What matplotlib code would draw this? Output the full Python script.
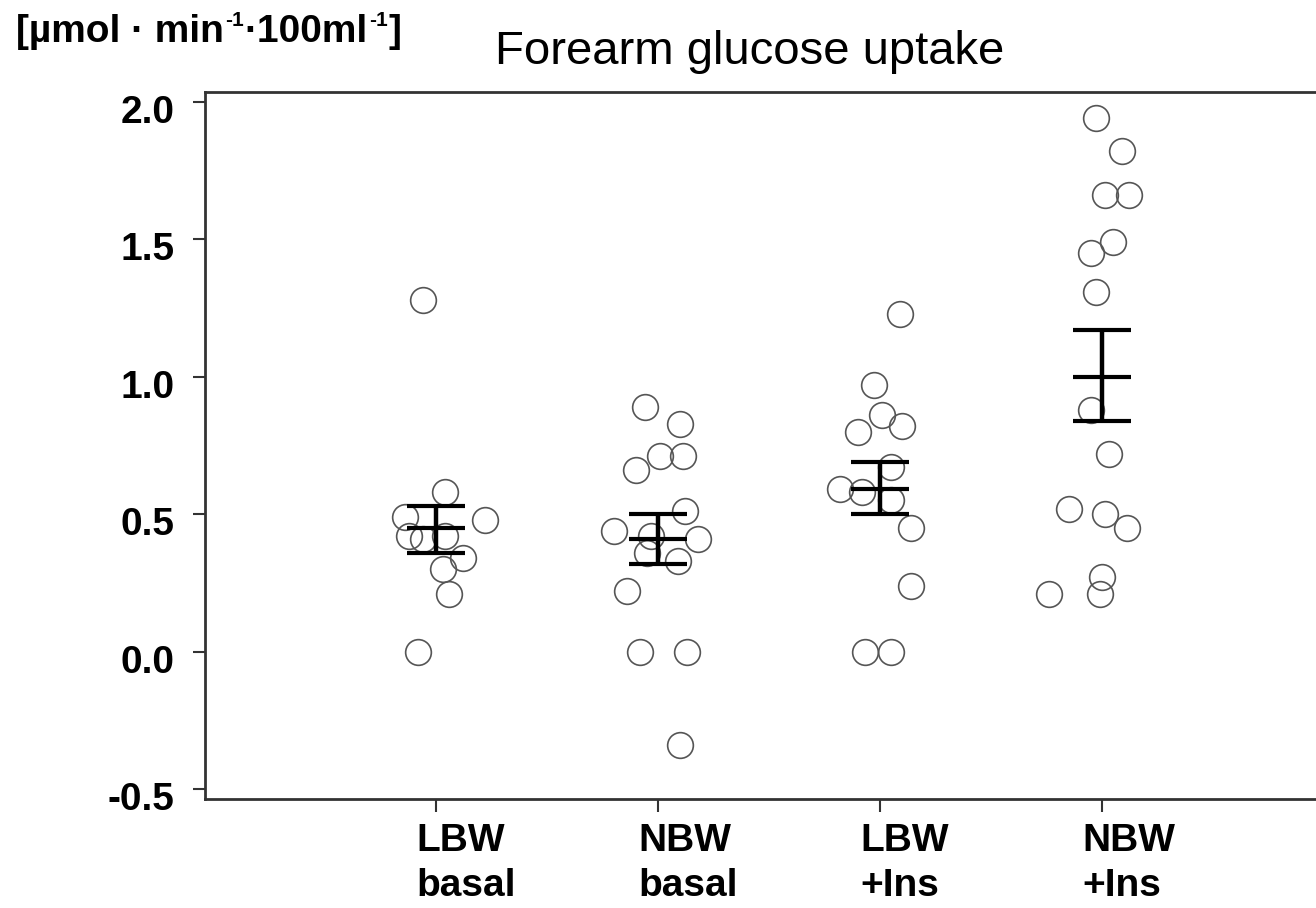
import matplotlib
matplotlib.use("Agg")
import matplotlib.pyplot as plt
from matplotlib.transforms import ScaledTranslation, IdentityTransform

# group labels
groups = ["LBW\nbasal", "NBW\nbasal", "LBW\n+Ins", "NBW\n+Ins"]

# individual values and horizontal jitter offsets
lbw_basal = [1.28, 0.58, 0.49, 0.48, 0.42, 0.41, 0.42, 0.34, 0.30, 0.21, 0.00]
lbw_basal_dx = [-0.06, 0.04, -0.14, 0.22, -0.12, -0.06, 0.04, 0.12, 0.03, 0.06, -0.08]

nbw_basal = [0.89, 0.83, 0.71, 0.71, 0.66, 0.51, 0.44, 0.42, 0.41, 0.36, 0.33, 0.22, 0.00, 0.00, -0.34]
nbw_basal_dx = [-0.06, 0.10, 0.01, 0.11, -0.10, 0.12, -0.20, -0.03, 0.18, -0.05, 0.09, -0.14, -0.08, 0.13, 0.10]

lbw_ins = [1.23, 0.97, 0.86, 0.82, 0.80, 0.67, 0.59, 0.58, 0.55, 0.45, 0.24, 0.00, 0.00]
lbw_ins_dx = [0.09, -0.03, 0.01, 0.10, -0.10, 0.05, -0.18, -0.08, 0.05, 0.14, 0.14, -0.07, 0.05]

nbw_ins = [1.94, 1.82, 1.66, 1.66, 1.49, 1.45, 1.31, 0.88, 0.72, 0.52, 0.50, 0.45, 0.27, 0.21, 0.21]
nbw_ins_dx = [-0.03, 0.09, 0.01, 0.12, 0.05, -0.05, -0.03, -0.05, 0.03, -0.15, 0.01, 0.11, 0.00, -0.01, -0.24]

# mean +/- SE
means = [0.45, 0.41, 0.59, 1.00]
se_low = [0.36, 0.32, 0.50, 0.84]
se_high = [0.53, 0.50, 0.69, 1.17]

yticks = [-0.5, 0.0, 0.5, 1.0, 1.5, 2.0]
ytick_labels = ["-0.5", "0.0", "0.5", "1.0", "1.5", "2.0"]

values = [lbw_basal, nbw_basal, lbw_ins, nbw_ins]
offsets = [lbw_basal_dx, nbw_basal_dx, lbw_ins_dx, nbw_ins_dx]

plt.rcParams["font.family"] = ["Liberation Sans", "DejaVu Sans"]

W, H = 1316, 908
fig = plt.figure(figsize=(W / 100, H / 100), dpi=100)
ax = fig.add_axes([205 / W, (H - 799) / H, (1340 - 205) / W, (799 - 92) / H])

for i, (vals, dxs) in enumerate(zip(values, offsets)):
    xs = [i + d for d in dxs]
    ax.plot(xs, vals, "o", ms=18.5, mfc="none", mec="#555555", mew=1.2, clip_on=False)

half = 0.13
for i in range(len(groups)):
    ax.vlines(i, se_low[i], se_high[i], color="black", lw=3.2)
    ax.hlines([se_low[i], means[i], se_high[i]], i - half, i + half, color="black", lw=3.0)

ax.set_xlim(-1.04, 4.07)
ax.set_ylim(-0.536, 2.036)
ax.set_xticks(range(len(groups)))
ax.set_xticklabels(groups, fontsize=28, fontweight="bold", linespacing=1.32,
                   ha="left", multialignment="left")
ax.set_yticks(yticks)
ax.set_yticklabels(ytick_labels, fontsize=28, fontweight="bold")
ax.tick_params(axis="both", direction="out", length=9, width=1.5, color="#333333")
ax.tick_params(axis="x", pad=8)
ax.tick_params(axis="y", pad=13)

# x labels sit left-aligned a little left of their tick; y labels sit slightly low
for lab in ax.get_xticklabels():
    lab.set_transform(lab.get_transform() + ScaledTranslation(-0.2, 0, fig.dpi_scale_trans))
for lab in ax.get_yticklabels():
    lab.set_transform(lab.get_transform() + ScaledTranslation(0, -0.07, fig.dpi_scale_trans))

for side in ["left", "top", "bottom"]:
    ax.spines[side].set_linewidth(2)
    ax.spines[side].set_color("#333333")
ax.spines["right"].set_visible(False)

fig.text(750 / W, 1 - 52 / H, "Forearm glucose uptake", fontsize=34,
         ha="center", va="center")

# unit label with small raised "-1" pieces
renderer = fig.canvas.get_renderer()
pieces = [("[µmol · min", False), ("-1", True), ("·100ml", False), ("-1", True), ("]", False)]
x = 16
for s, sup in pieces:
    if sup:
        t = fig.text(x, H - 26, s, fontsize=15, fontweight="bold", ha="left",
                     va="baseline", transform=IdentityTransform())
    else:
        t = fig.text(x, H - 42, s, fontsize=28, fontweight="bold", ha="left",
                     va="baseline", transform=IdentityTransform())
    x = t.get_window_extent(renderer).x1 + 1

fig.savefig("out.png", dpi=100)
